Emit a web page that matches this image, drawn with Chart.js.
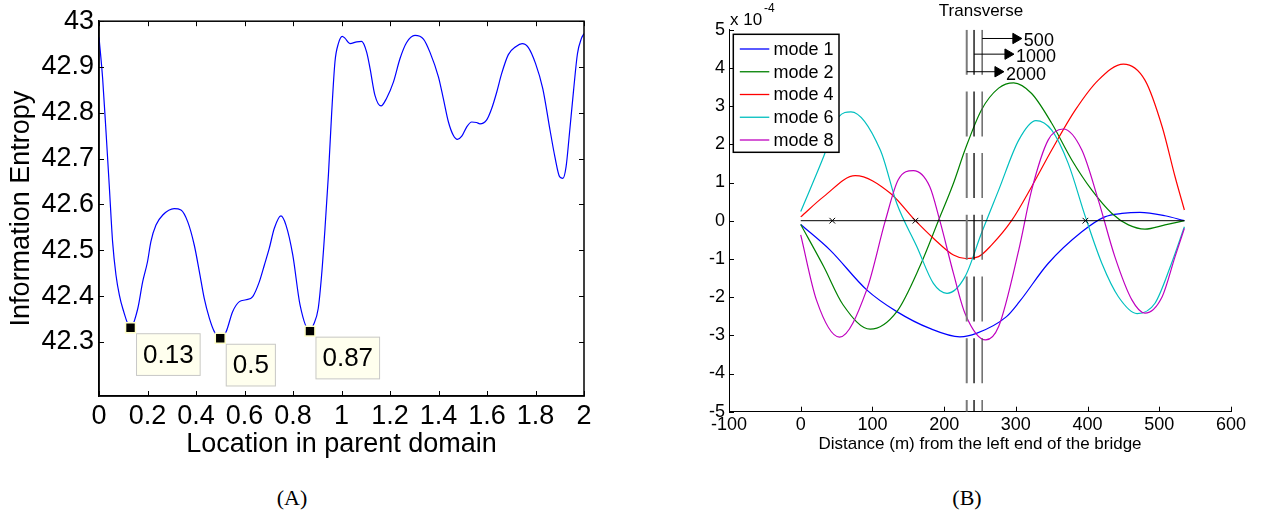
<!DOCTYPE html>
<html>
<head>
<meta charset="utf-8">
<script src="https://cdn.jsdelivr.net/npm/chart.js@4.4.1/dist/chart.umd.min.js"></script>
<style>
  body { margin: 0; background: #fff; width: 1261px; height: 517px; overflow: hidden; position: relative; }
  canvas { position: absolute; top: 0; }
  #chartA { left: 0; }
  #chartB { left: 640px; }
  .cap { position: absolute; top: 487px; width: 100px; text-align: center; line-height: 22px;
         font-family: 'Liberation Serif', 'Times New Roman', serif; font-size: 22px; color: #000; }
</style>
</head>
<body>
<canvas id="chartA" width="640" height="470"></canvas>
<canvas id="chartB" width="621" height="470"></canvas>
<div class="cap" style="left:242px">(A)</div>
<div class="cap" style="left:917px">(B)</div>
<script>
// (A) information entropy along the parent domain
var locA = [0, 0.015, 0.029, 0.043, 0.056, 0.07, 0.084, 0.098, 0.13, 0.16, 0.18, 0.2, 0.214, 0.235, 0.263, 0.31,
  0.338, 0.366, 0.393, 0.414, 0.434, 0.455, 0.476, 0.5, 0.524, 0.551, 0.579, 0.606, 0.634, 0.661, 0.682, 0.702,
  0.723, 0.75, 0.771, 0.799, 0.829, 0.87, 0.884, 0.904, 0.918, 0.932, 0.946, 0.959, 0.973, 0.987, 1.003, 1.014,
  1.035, 1.063, 1.083, 1.104, 1.118, 1.138, 1.163, 1.186, 1.214, 1.241, 1.268, 1.303, 1.338, 1.365, 1.4, 1.42,
  1.441, 1.461, 1.478, 1.496, 1.516, 1.537, 1.557, 1.571, 1.598, 1.619, 1.64, 1.66, 1.688, 1.72, 1.745, 1.77,
  1.8, 1.83, 1.86, 1.88, 1.9, 1.913, 1.926, 1.94, 1.957, 1.973, 1.989, 2.0];
var entropyA = [42.965, 42.875, 42.758, 42.635, 42.519, 42.446, 42.402, 42.373, 42.331, 42.373, 42.431, 42.475,
  42.519, 42.555, 42.577, 42.591, 42.588, 42.562, 42.511, 42.453, 42.395, 42.352, 42.322, 42.308, 42.322, 42.366,
  42.388, 42.392, 42.399, 42.431, 42.468, 42.504, 42.548, 42.575, 42.555, 42.49, 42.381, 42.3235, 42.337, 42.373,
  42.446, 42.548, 42.664, 42.795, 42.911, 42.951, 42.967, 42.963, 42.951, 42.955, 42.956, 42.932, 42.896, 42.838,
  42.815, 42.832, 42.867, 42.918, 42.953, 42.969, 42.961, 42.932, 42.878, 42.831, 42.78, 42.751, 42.742, 42.749,
  42.769, 42.78, 42.779, 42.776, 42.784, 42.809, 42.845, 42.885, 42.927, 42.945, 42.951, 42.943, 42.908, 42.853,
  42.762, 42.704, 42.66, 42.657, 42.682, 42.755, 42.849, 42.929, 42.962, 42.973];
var minLoc = [0.13, 0.5, 0.87];
var minEntropy = [42.331, 42.308, 42.3235];
var xTicksA = [0, 0.2, 0.4, 0.6, 0.8, 1, 1.2, 1.4, 1.6, 1.8, 2];
var yTicksA = [42.3, 42.4, 42.5, 42.6, 42.7, 42.8, 42.9, 43];

// (B) transverse mode shapes (x 1e-4)
var m1x = [0, 41, 92, 134, 180, 222, 245, 287, 305, 345, 392, 424, 448, 473, 508, 535];
var m1y = [-0.1, -0.77, -1.81, -2.38, -2.82, -3.04, -2.95, -2.51, -2.12, -1.12, -0.29, 0.1, 0.19, 0.22, 0.13, 0];
var m2x = [0, 32, 59, 97, 134, 166, 192, 213, 229, 252, 276, 297, 322, 350, 378, 406, 434, 457, 480, 508, 535];
var m2y = [-0.1, -1.2, -2.2, -2.84, -2.38, -1.2, 0, 0.98, 1.85, 2.9, 3.47, 3.61, 3.33, 2.55, 1.59, 0.8, 0.19, -0.11, -0.22, -0.11, 0];
var m4x = [0, 32, 76, 125, 159, 185, 213, 230, 248, 266, 294, 322, 350, 383, 415, 450, 480, 504, 522, 535];
var m4y = [0.1, 0.63, 1.18, 0.72, 0.02, -0.46, -0.9, -0.99, -0.94, -0.64, 0, 0.89, 1.85, 2.9, 3.68, 4.1, 3.68, 2.46, 1.15, 0.28];
var m6x = [0, 32, 53, 70, 111, 134, 162, 185, 204, 229, 252, 276, 304, 328, 350, 373, 397, 420, 443, 469, 494, 517, 535];
var m6y = [0.24, 1.68, 2.72, 2.85, 1.85, 0.45, -0.68, -1.64, -1.9, -1.47, -0.33, 0.8, 2.11, 2.62, 2.37, 1.5, 0.1, -1.12, -1.99, -2.43, -2.16, -1.12, -0.16];
var m8x = [0, 22, 54, 92, 118, 136, 157, 180, 194, 213, 229, 258, 276, 304, 322, 345, 366, 392, 415, 438, 462, 480, 504, 522, 535];
var m8y = [-0.37, -2.08, -3.05, -1.81, 0, 1.07, 1.31, 0.89, 0, -1.38, -2.42, -3.12, -2.77, -0.77, 0.8, 2.11, 2.4, 1.85, 0.54, -0.94, -2.08, -2.42, -1.99, -0.94, -0.2];
var modeNames = ['mode 1', 'mode 2', 'mode 4', 'mode 6', 'mode 8'];
var modeColors = ['#0000ff', '#008000', '#ff0000', '#00bfbf', '#bf00bf'];
var spanEnds = [0, 535];
var crossX = [44, 160, 397];
var sensorX = [231.5, 241.7, 253];
var sensorColors = ['#7a7a7a', '#000000', '#505050'];
var sensorWidths = [2, 1.3, 1.3];
var arrowFromX = [253, 241.7, 231.5];
var arrowHeadX = [300, 289, 275];
var arrowY = [4.77, 4.36, 3.9];
var arrowText = ['500', '1000', '2000'];
var xTicksB = [-100, 0, 100, 200, 300, 400, 500, 600];
var yTicksB = [-5, -4, -3, -2, -1, 0, 1, 2, 3, 4, 5];

Chart.defaults.font.family = "'Liberation Sans', Arial, sans-serif";
Chart.defaults.color = '#000';

function pts(xs, ys) {
  return xs.map(function (x, i) { return { x: x, y: ys[i] }; });
}
function fixTicks(list) {
  return function (scale) { scale.ticks = list.map(function (v) { return { value: v }; }); };
}
function fmt(v) { return String(+v.toFixed(2)); }

// inward tick marks, optionally a full box
var frameTicks = {
  id: 'frameTicks',
  afterDatasetsDraw: function (chart, args, o) {
    var ctx = chart.ctx, a = chart.chartArea, xs = chart.scales.x, ys = chart.scales.y;
    ctx.save();
    ctx.strokeStyle = '#000';
    ctx.lineWidth = 1;
    ctx.beginPath();
    xs.ticks.forEach(function (t) {
      var p = Math.round(xs.getPixelForValue(t.value)) + 0.5;
      ctx.moveTo(p, a.bottom); ctx.lineTo(p, a.bottom - o.len);
      if (o.box) { ctx.moveTo(p, a.top); ctx.lineTo(p, a.top + o.len); }
    });
    ys.ticks.forEach(function (t) {
      var p = Math.round(ys.getPixelForValue(t.value)) + 0.5;
      ctx.moveTo(a.left, p); ctx.lineTo(a.left + o.len, p);
      if (o.box) { ctx.moveTo(a.right, p); ctx.lineTo(a.right - o.len, p); }
    });
    ctx.stroke();
    if (o.box) {
      ctx.lineWidth = 1.5;
      ctx.strokeRect(a.left, a.top, a.right - a.left, a.bottom - a.top);
    }
    ctx.restore();
  }
};

// datatip boxes next to the minima
var dataTips = {
  id: 'dataTips',
  afterDatasetsDraw: function (chart) {
    var ctx = chart.ctx, xs = chart.scales.x, ys = chart.scales.y;
    ctx.save();
    ctx.font = "26px 'Liberation Sans', Arial, sans-serif";
    ctx.textBaseline = 'middle';
    ctx.textAlign = 'left';
    minLoc.forEach(function (v, i) {
      var px = xs.getPixelForValue(v), py = ys.getPixelForValue(minEntropy[i]);
      var label = String(v);
      var w = ctx.measureText(label).width + 14, h = 42.7;
      var bx = px + 5.5, by = py + 5.5;
      ctx.fillStyle = '#ffffee';
      ctx.fillRect(bx, by, w, h);
      ctx.strokeStyle = '#c8c8c8';
      ctx.lineWidth = 1;
      ctx.strokeRect(bx + 0.5, by + 0.5, w - 1, h - 1);
      ctx.fillStyle = '#000';
      ctx.fillText(label, bx + 7, by + h / 2 + 1);
    });
    ctx.restore();
  }
};

new Chart(document.getElementById('chartA'), {
  type: 'line',
  data: {
    datasets: [{
      data: pts(minLoc, minEntropy),
      showLine: false,
      pointStyle: 'rect',
      pointRadius: 7,
      pointBackgroundColor: '#000',
      pointBorderColor: '#ffffc8',
      pointBorderWidth: 1.5,
      order: 0
    }, {
      data: pts(locA, entropyA),
      borderColor: '#0000ff',
      borderWidth: 1.2,
      pointRadius: 0,
      cubicInterpolationMode: 'monotone',
      order: 1
    }]
  },
  options: {
    responsive: false,
    animation: false,
    layout: { padding: { top: 20.7, right: 56, left: 0, bottom: 0 } },
    plugins: { legend: { display: false }, tooltip: { enabled: false }, frameTicks: { len: 5, box: true } },
    scales: {
      x: {
        type: 'linear', min: 0, max: 2,
        afterBuildTicks: fixTicks(xTicksA),
        afterFit: function (s) { s.height = 74; },
        grid: { display: false, drawTicks: false },
        border: { color: '#000', width: 1.5 },
        ticks: { font: { size: 27 }, padding: 4, callback: fmt, maxRotation: 0 },
        title: { display: true, text: 'Location in parent domain', font: { size: 27 }, padding: { top: 0, bottom: 8.8 } }
      },
      y: {
        type: 'linear', min: 42.182, max: 43,
        afterBuildTicks: fixTicks(yTicksA),
        afterFit: function (s) { s.width = 99; },
        grid: { display: false, drawTicks: false },
        border: { color: '#000', width: 1.5 },
        ticks: { font: { size: 27 }, padding: 5, callback: fmt },
        title: { display: true, text: 'Information Entropy', font: { size: 27 }, padding: { top: 5, bottom: 0 } }
      }
    }
  },
  plugins: [frameTicks, dataTips]
});

// legend box, title, exponent and arrow labels for (B)
var notesB = {
  id: 'notesB',
  afterDatasetsDraw: function (chart) {
    var ctx = chart.ctx, a = chart.chartArea, xs = chart.scales.x, ys = chart.scales.y;
    ctx.save();
    // legend
    var lx = a.left + 4.3, ly = a.top + 4.6, lw = 105.7, lh = 118;
    ctx.fillStyle = '#fff';
    ctx.fillRect(lx, ly, lw, lh);
    ctx.strokeStyle = '#000';
    ctx.lineWidth = 1.5;
    ctx.strokeRect(lx, ly, lw, lh);
    ctx.font = "18px 'Liberation Sans', Arial, sans-serif";
    ctx.textBaseline = 'middle';
    ctx.textAlign = 'left';
    chart.data.datasets.filter(function (d) { return d.inLegend; }).forEach(function (d, i) {
      var y = ly + 14.7 + i * 22.75;
      ctx.strokeStyle = d.borderColor;
      ctx.lineWidth = 1.3;
      ctx.beginPath(); ctx.moveTo(lx + 6.5, y); ctx.lineTo(lx + 36, y); ctx.stroke();
      ctx.fillStyle = '#000';
      ctx.fillText(d.label, lx + 40.2, y + 1);
    });
    // title
    ctx.font = "17px 'Liberation Sans', Arial, sans-serif";
    ctx.textAlign = 'center';
    ctx.fillText('Transverse', (a.left + a.right) / 2 + 1, 11);
    // exponent
    ctx.textAlign = 'left';
    ctx.textBaseline = 'alphabetic';
    ctx.fillText('x 10', a.left + 1, 25);
    ctx.font = "12px 'Liberation Sans', Arial, sans-serif";
    ctx.fillText('-4', a.left + 35, 12);
    // arrow labels
    ctx.font = "18px 'Liberation Sans', Arial, sans-serif";
    ctx.textBaseline = 'middle';
    arrowText.forEach(function (t, i) {
      ctx.fillText(t, xs.getPixelForValue(arrowHeadX[i]) + 8, ys.getPixelForValue(arrowY[i]) + 3);
    });
    ctx.restore();
  }
};

var dsB = [];
[[m1x, m1y], [m2x, m2y], [m4x, m4y], [m6x, m6y], [m8x, m8y]].forEach(function (m, i) {
  dsB.push({
    label: modeNames[i], inLegend: true,
    data: pts(m[0], m[1]),
    borderColor: modeColors[i], borderWidth: 1.2, pointRadius: 0,
    cubicInterpolationMode: 'monotone',
    order: 10 - i
  });
});
dsB.push({
  data: pts(spanEnds, [0, 0]),
  borderColor: '#000', borderWidth: 1, pointRadius: 0, order: 3
});
dsB.push({
  data: pts(crossX, crossX.map(function () { return 0; })),
  showLine: false, pointStyle: 'crossRot', pointRadius: 4,
  pointBorderColor: '#000', pointBorderWidth: 1, order: 2
});
sensorX.forEach(function (x, i) {
  dsB.push({
    data: pts([x, x], [5, -5]),
    borderColor: sensorColors[i], borderWidth: sensorWidths[i], borderDash: [45, 16.7],
    pointRadius: 0, order: 1
  });
});
arrowFromX.forEach(function (x, i) {
  dsB.push({
    data: pts([x, arrowHeadX[i]], [arrowY[i], arrowY[i]]),
    borderColor: '#000', borderWidth: 1,
    pointRadius: [0, 6], pointStyle: 'triangle', pointRotation: 90,
    pointBackgroundColor: '#000', pointBorderColor: '#000', pointBorderWidth: 1,
    order: 0
  });
});

new Chart(document.getElementById('chartB'), {
  type: 'line',
  data: { datasets: dsB },
  options: {
    responsive: false,
    animation: false,
    layout: { padding: { top: 29.7, right: 30, left: 0, bottom: 0 } },
    plugins: { legend: { display: false }, tooltip: { enabled: false }, frameTicks: { len: 5, box: false } },
    scales: {
      x: {
        type: 'linear', min: -100, max: 600,
        afterBuildTicks: fixTicks(xTicksB),
        afterFit: function (s) { s.height = 58.3; },
        grid: { display: false, drawTicks: false },
        border: { color: '#000', width: 1 },
        ticks: { font: { size: 18 }, padding: 2.5, callback: fmt, maxRotation: 0 },
        title: { display: true, text: 'Distance (m) from the left end of the bridge', font: { size: 17 }, padding: { top: 0, bottom: 15.3 } }
      },
      y: {
        type: 'linear', min: -5, max: 5,
        afterBuildTicks: fixTicks(yTicksB),
        afterFit: function (s) { s.width = 89; },
        grid: { display: false, drawTicks: false },
        border: { color: '#000', width: 1 },
        ticks: { font: { size: 18 }, padding: 4, callback: fmt }
      }
    }
  },
  plugins: [frameTicks, notesB]
});
</script>
</body>
</html>
